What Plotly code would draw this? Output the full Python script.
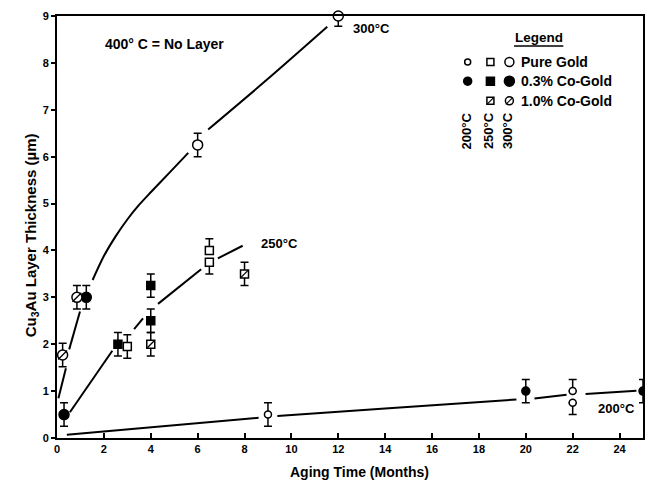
import plotly.graph_objects as go

# ---------------- data ----------------
x_ticks = [0, 2, 4, 6, 8, 10, 12, 14, 16, 18, 20, 22, 24]
y_ticks = [0, 1, 2, 3, 4, 5, 6, 7, 8, 9]

# 200 C
t200_pure_x = [9.0, 22.0, 22.0]
t200_pure_y = [0.5, 1.0, 0.75]
t200_pure_up = [0.25, 0.25, 0.0]
t200_pure_dn = [0.25, 0.0, 0.25]
t200_co03_x = [20.0, 25.0]
t200_co03_y = [1.0, 1.0]
t200_co03_up = [0.25, 0.25]
t200_co03_dn = [0.25, 0.25]

# 250 C
t250_pure_x = [3.0, 6.5, 6.5]
t250_pure_y = [1.95, 4.0, 3.75]
t250_pure_up = [0.25, 0.25, 0.0]
t250_pure_dn = [0.25, 0.0, 0.25]
t250_co03_x = [2.6, 4.0, 4.0]
t250_co03_y = [2.0, 3.25, 2.5]
t250_co03_up = [0.25, 0.25, 0.25]
t250_co03_dn = [0.25, 0.25, 0.25]
t250_co10_x = [4.0, 8.0]
t250_co10_y = [2.0, 3.5]
t250_co10_up = [0.25, 0.25]
t250_co10_dn = [0.25, 0.25]

# 300 C
t300_pure_x = [6.0, 12.0]
t300_pure_y = [6.25, 9.0]
t300_pure_up = [0.25, 0.22]
t300_pure_dn = [0.25, 0.22]
t300_co03_x = [0.3, 1.25]
t300_co03_y = [0.5, 3.0]
t300_co03_up = [0.25, 0.25]
t300_co03_dn = [0.25, 0.25]
t300_co10_x = [0.24, 0.85]
t300_co10_y = [1.77, 3.0]
t300_co10_up = [0.25, 0.25]
t300_co10_dn = [0.25, 0.25]

# fitted curves as drawn (None = gap left around markers)
curve300_x = [0.06, 0.38, None, 0.52, 0.98, None, 1.52, 2.0, 2.5, 3.0, 3.5, 4.0, 4.8, 5.6, None,
              6.45, 9.0, 11.53]
curve300_y = [0.85, 1.49, None, 1.89, 2.7, None, 3.37, 3.88, 4.3, 4.66, 4.97, 5.24, 5.66, 6.08, None,
              6.58, 7.66, 8.77]
curve250_x = [0.55, 2.36, None, 3.29, 3.67, None, 4.31, 6.15, None, 6.86, 7.92]
curve250_y = [0.55, 1.86, None, 2.32, 2.55, None, 2.86, 3.6, None, 3.83, 4.1]
curve200_x = [0.42, 8.6, None, 9.4, 14.0, 19.6, None, 20.37, 21.74, None, 22.55, 24.72]
curve200_y = [0.07, 0.43, None, 0.47, 0.63, 0.82, None, 0.84, 0.92, None, 0.94, 1.01]

legend_rows = ["Pure Gold", "0.3% Co-Gold", "1.0% Co-Gold"]
legend_cols = ["200°C", "250°C", "300°C"]

# ---------------- style ----------------
FONT = "Liberation Sans, Arial, Helvetica, sans-serif"
S200, S250, S300 = 7, 8, 10
LW = 1.5

fig = go.Figure()

for cx, cy in [(curve300_x, curve300_y), (curve250_x, curve250_y), (curve200_x, curve200_y)]:
    fig.add_trace(go.Scatter(x=cx, y=cy, mode="lines",
                             line=dict(color="black", width=2, shape="spline", smoothing=0.8),
                             connectgaps=False, hoverinfo="skip", showlegend=False))


def pts(x, y, up, dn, symbol, size, fill, slash=False, clip=True):
    fig.add_trace(go.Scatter(
        x=x, y=y, mode="markers", showlegend=False, cliponaxis=clip,
        marker=dict(symbol=symbol, size=size, color=fill, line=dict(color="black", width=LW)),
        error_y=dict(type="data", symmetric=False, array=up, arrayminus=dn,
                     color="black", thickness=1.5, width=4)))
    if slash:
        fig.add_trace(go.Scatter(
            x=x, y=y, mode="markers", showlegend=False, cliponaxis=clip, hoverinfo="skip",
            marker=dict(symbol="line-ne", size=size - 1, line=dict(color="black", width=1.3))))


pts(t200_pure_x, t200_pure_y, t200_pure_up, t200_pure_dn, "circle", S200, "white")
pts(t200_co03_x, t200_co03_y, t200_co03_up, t200_co03_dn, "circle", S200 + 1, "black")
pts(t250_pure_x, t250_pure_y, t250_pure_up, t250_pure_dn, "square", S250, "white")
pts(t250_co03_x, t250_co03_y, t250_co03_up, t250_co03_dn, "square", S250, "black")
pts(t250_co10_x, t250_co10_y, t250_co10_up, t250_co10_dn, "square", S250, "white", slash=True)
pts(t300_pure_x, t300_pure_y, t300_pure_up, t300_pure_dn, "circle", S300, "white", clip=False)
pts(t300_co03_x, t300_co03_y, t300_co03_up, t300_co03_dn, "circle", S300, "black")
pts(t300_co10_x, t300_co10_y, t300_co10_up, t300_co10_dn, "circle", S300, "white", slash=True)

# legend block (drawn as markers and text inside the plot)
col_x = [17.52, 18.49, 19.30]
row_y = [8.02, 7.61, 7.19]
leg_sym = [
    [("circle", S200 - 1, "white", False), ("square", S250 - 1, "white", False), ("circle", S300 - 1, "white", False)],
    [("circle", S200 + 1, "black", False), ("square", S250, "black", False), ("circle", S300, "black", False)],
    [None, ("square", S250 - 1, "white", True), ("circle", S300 - 2, "white", True)],
]
for r, row in enumerate(leg_sym):
    for c, spec in enumerate(row):
        if spec is None:
            continue
        sym, sz, fill, sl = spec
        fig.add_trace(go.Scatter(x=[col_x[c]], y=[row_y[r]], mode="markers", showlegend=False,
                                 hoverinfo="skip",
                                 marker=dict(symbol=sym, size=sz, color=fill,
                                             line=dict(color="black", width=LW))))
        if sl:
            fig.add_trace(go.Scatter(x=[col_x[c]], y=[row_y[r]], mode="markers", showlegend=False,
                                     hoverinfo="skip",
                                     marker=dict(symbol="line-ne", size=sz - 1,
                                                 line=dict(color="black", width=1.2))))


def bold(size):
    return dict(family=FONT, size=size, color="black", weight="bold")


ann = []
for r, txt in enumerate(legend_rows):
    ann.append(dict(x=19.7, y=row_y[r], text=txt, showarrow=False, xanchor="left", yanchor="middle",
                    font=bold(14)))
for c, txt in enumerate(legend_cols):
    ann.append(dict(x=col_x[c] - 0.05, y=6.55, text=txt, showarrow=False, textangle=-90,
                    xanchor="center", yanchor="middle", font=bold(13)))
ann.append(dict(x=20.55, y=8.55, text="Legend", showarrow=False, xanchor="center", yanchor="middle",
                font=bold(13.5)))
ann.append(dict(x=1.95, y=8.4, text="400° C = No Layer", showarrow=False, xanchor="left",
                yanchor="middle", font=bold(14)))
ann.append(dict(x=12.55, y=8.73, text="300°C", showarrow=False, xanchor="left", yanchor="middle",
                font=bold(13)))
ann.append(dict(x=8.63, y=4.15, text="250°C", showarrow=False, xanchor="left", yanchor="middle",
                font=bold(13)))
ann.append(dict(x=23.0, y=0.63, text="200°C", showarrow=False, xanchor="left", yanchor="middle",
                font=bold(13)))
# axis titles
ann.append(dict(x=0.517, y=-0.08, xref="paper", yref="paper", text="Aging Time (Months)",
                showarrow=False, xanchor="center", yanchor="middle", font=bold(14)))
ann.append(dict(x=-0.044, y=0.481, xref="paper", yref="paper",
                text="Cu<sub>3</sub>Au Layer Thickness (µm)", textangle=-90,
                showarrow=False, xanchor="center", yanchor="middle", font=bold(15)))

fig.update_layout(
    width=646, height=481,
    margin=dict(l=57, r=1, t=16, b=43),
    paper_bgcolor="white", plot_bgcolor="white",
    font=dict(family=FONT, color="black"),
    annotations=ann,
    shapes=[dict(type="line", xref="x", yref="y", x0=19.5, x1=21.6, y0=8.36, y1=8.36,
                 line=dict(color="black", width=1.5))],
    xaxis=dict(range=[0, 25], tickvals=x_ticks, ticktext=[str(v) for v in x_ticks],
               showgrid=False, zeroline=False, showline=True, linecolor="black", linewidth=2,
               mirror=True, ticks="inside", ticklen=5, tickwidth=1.5, tickcolor="black",
               tickfont=bold(11)),
    yaxis=dict(range=[0, 9], tickvals=y_ticks, ticktext=[str(v) for v in y_ticks],
               showgrid=False, zeroline=False, showline=True, linecolor="black", linewidth=2,
               mirror=True, ticks="outside", ticklen=4, tickwidth=1.5, tickcolor="black",
               tickfont=bold(11)),
)

fig.write_html("out.html")
